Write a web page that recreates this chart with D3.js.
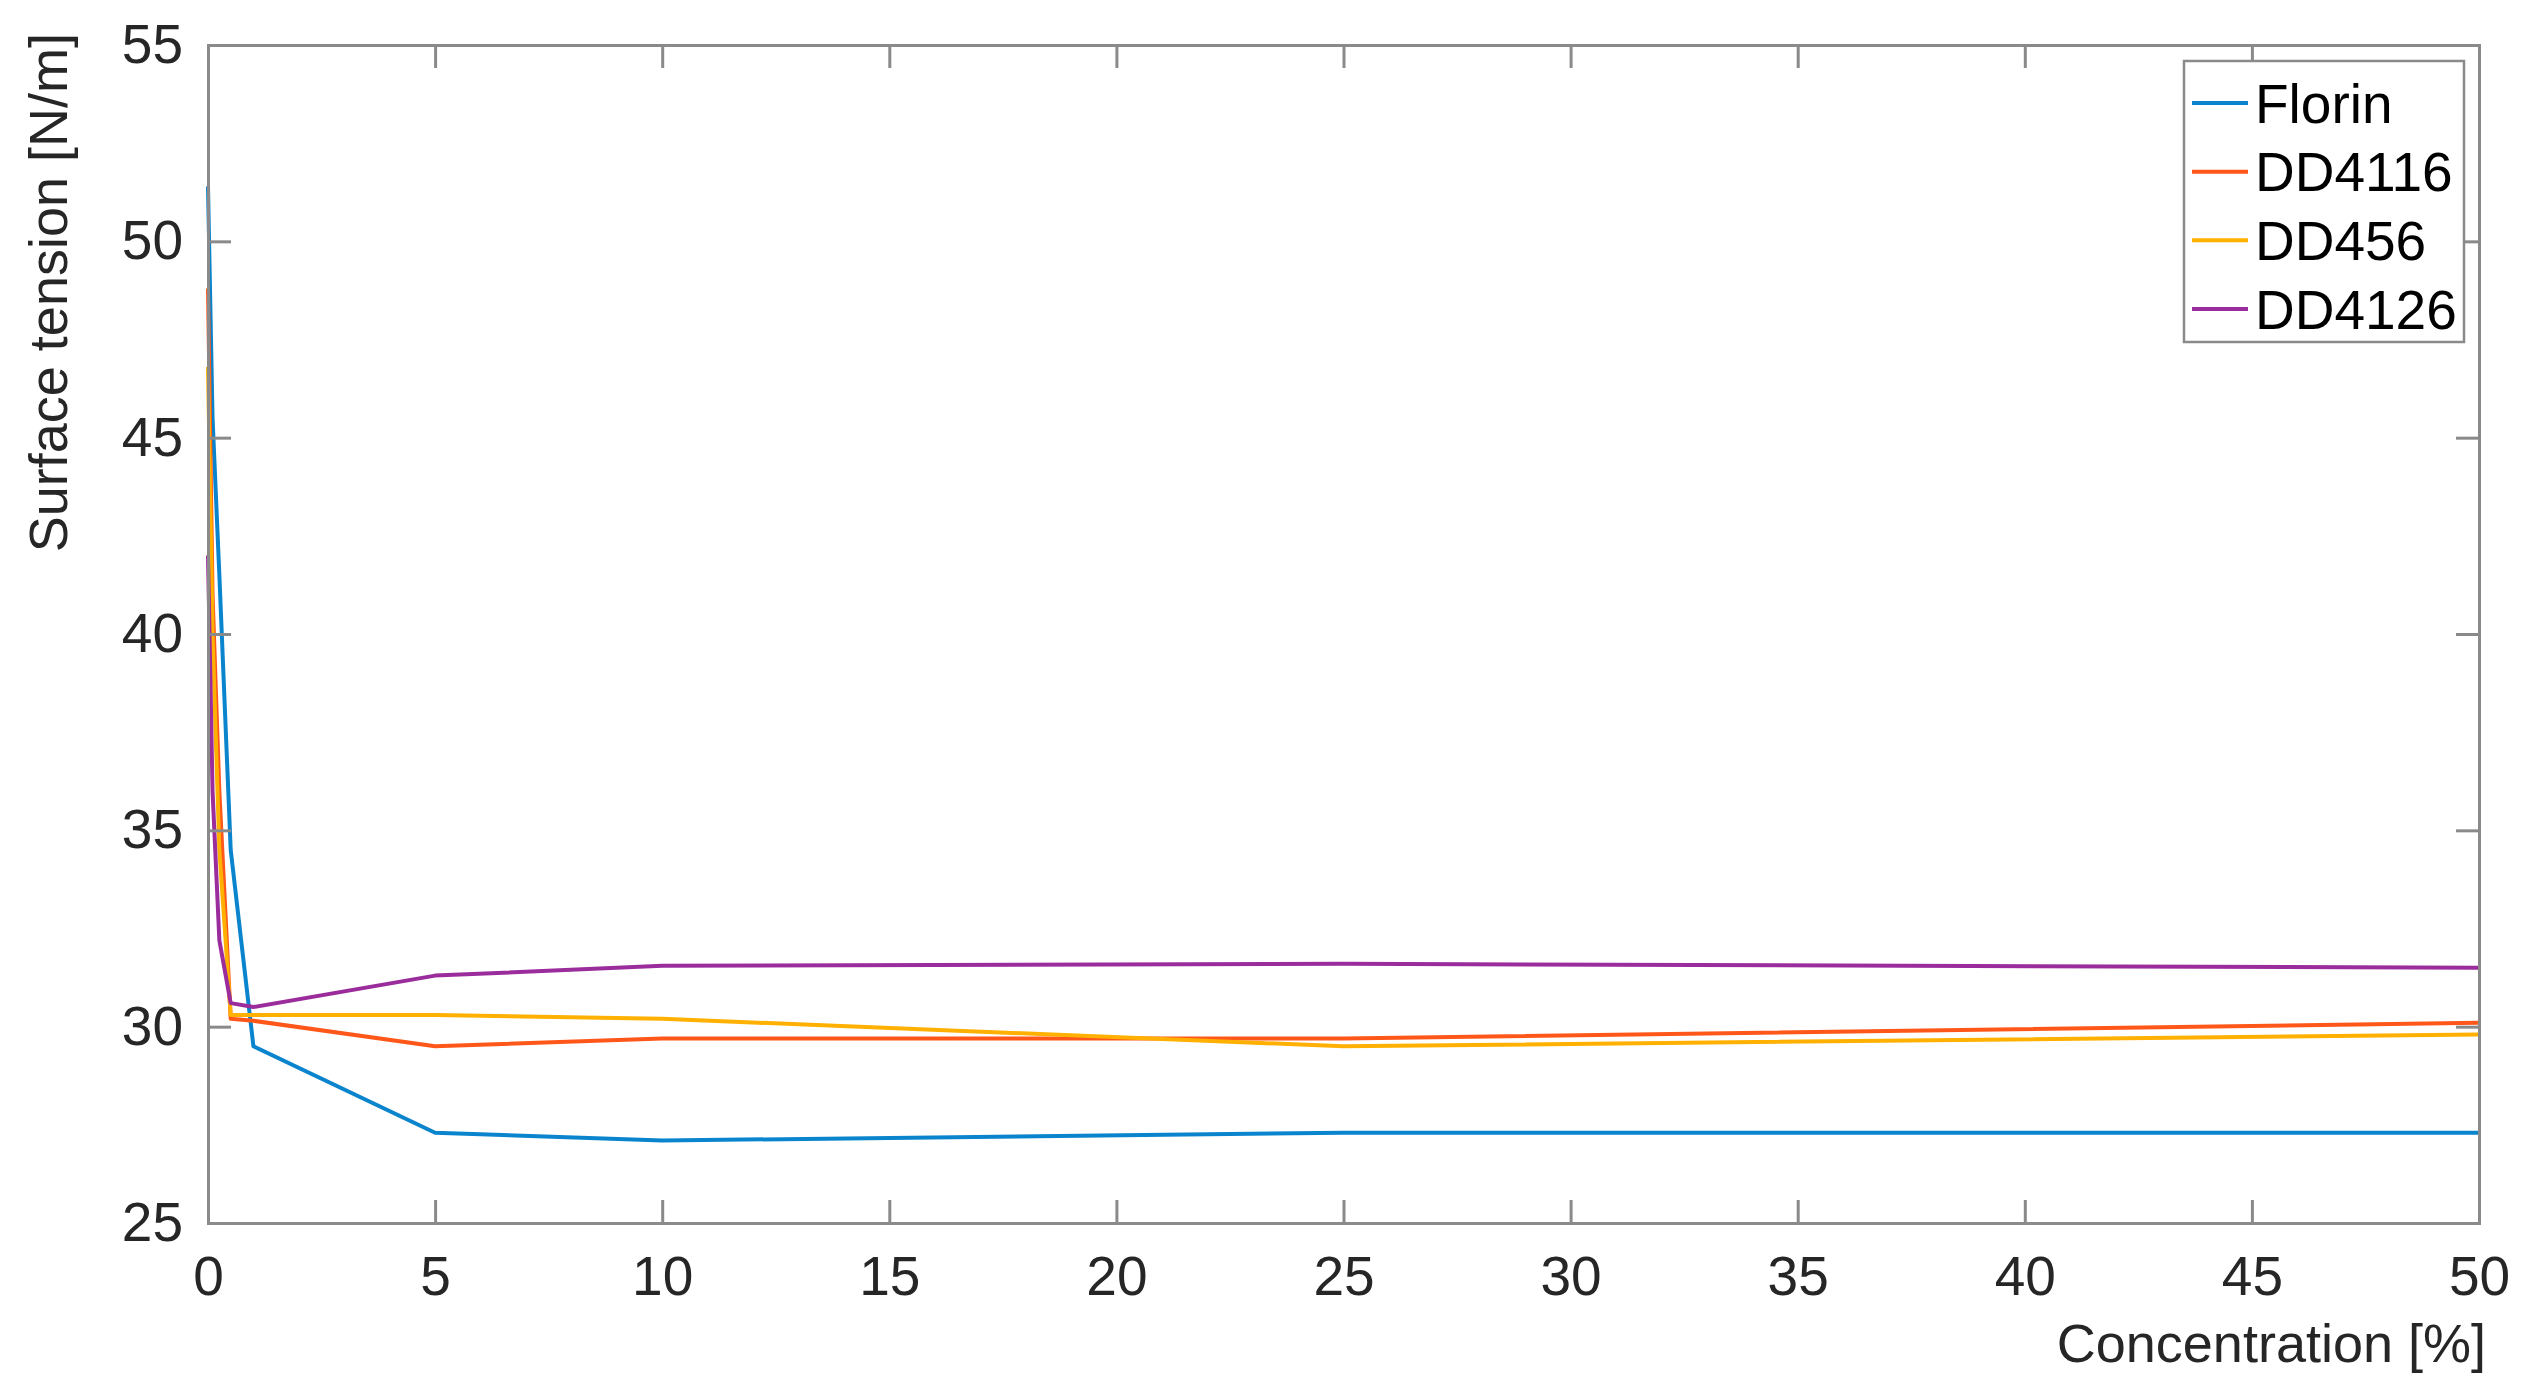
<!DOCTYPE html>
<html>
<head>
<meta charset="utf-8">
<script src="https://cdn.jsdelivr.net/npm/d3@7"></script>
<style>
  html, body { margin: 0; padding: 0; background: #fff; }
  svg { display: block; font-family: "Liberation Sans", Arial, sans-serif; }
</style>
</head>
<body>
<svg id="chart" width="2527" height="1392"></svg>
<script>
// ---- data ----
const concentration = [0, 0.1, 0.25, 0.5, 1, 5, 10, 25, 50];
const seriesNames = ["Florin", "DD4116", "DD456", "DD4126"];
const florin = [51.4, 45.5, 41.5, 34.5, 29.5, 27.3, 27.1, 27.3, 27.3];
const dd4116 = [48.8, 41.0, 36.0, 30.2, 30.15, 29.5, 29.7, 29.7, 30.1];
const dd456  = [46.8, 40.0, 34.5, 30.3, 30.3, 30.3, 30.2, 29.5, 29.8];
const dd4126 = [42.0, 36.0, 32.2, 30.6, 30.5, 31.3, 31.55, 31.6, 31.5];
const xTicks = [0, 5, 10, 15, 20, 25, 30, 35, 40, 45, 50];
const yTicks = [25, 30, 35, 40, 45, 50, 55];
const colors = ["#0a84cc", "#ff5719", "#ffb000", "#9a2c9c"];

const seriesValues = [florin, dd4116, dd456, dd4126];

(function () {
  // ---- layout ----
  const svg = d3.select("#chart");
  const mLeft = 208, mRight = 2479, mTop = 45, mBottom = 1223;
  const x = d3.scaleLinear().domain([0, 50]).range([mLeft, mRight]);
  const y = d3.scaleLinear().domain([25, 55]).range([mBottom, mTop]);
  const axisColor = "#8a8a8a";
  const textColor = "#262626";
  const tickLen = 23;
  const fontSize = 55;

  // plot lines
  const line = d3.line().x(d => x(d[0])).y(d => y(d[1]));
  seriesValues.forEach((vals, i) => {
    const pts = concentration.map((c, j) => [c, vals[j]]);
    svg.append("path")
      .datum(pts)
      .attr("d", line)
      .attr("fill", "none")
      .attr("stroke", colors[i])
      .attr("stroke-width", 4)
      .attr("stroke-linejoin", "round");
  });

  // axes (box style with inward ticks)
  const gx = svg.append("g").attr("transform", `translate(0,${mBottom})`)
    .call(d3.axisBottom(x).tickValues(xTicks).tickSize(-tickLen).tickPadding(33).tickFormat(d3.format("d")));
  const gxTop = svg.append("g").attr("transform", `translate(0,${mTop})`)
    .call(d3.axisTop(x).tickValues(xTicks).tickSize(-tickLen).tickFormat(""));
  const gy = svg.append("g").attr("transform", `translate(${mLeft},0)`)
    .call(d3.axisLeft(y).tickValues(yTicks).tickSize(-tickLen).tickPadding(25).tickFormat(d3.format("d")));
  const gyRight = svg.append("g").attr("transform", `translate(${mRight},0)`)
    .call(d3.axisRight(y).tickValues(yTicks).tickSize(-tickLen).tickFormat(""));

  [gx, gxTop, gy, gyRight].forEach(g => {
    g.select(".domain").attr("stroke", axisColor).attr("stroke-width", 3);
    g.selectAll(".tick line").attr("stroke", axisColor).attr("stroke-width", 3);
    g.selectAll(".tick text").attr("fill", textColor).attr("font-size", fontSize)
      .attr("font-family", '"Liberation Sans", Arial, sans-serif');
  });

  // axis labels
  svg.append("text")
    .attr("x", 2486).attr("y", 1362)
    .attr("text-anchor", "end")
    .attr("font-size", 54)
    .attr("fill", textColor)
    .text("Concentration [%]");

  svg.append("text")
    .attr("transform", "translate(67,33) rotate(-90)")
    .attr("text-anchor", "end")
    .attr("font-size", 54)
    .attr("fill", textColor)
    .text("Surface tension [N/m]");

  // legend
  const lg = svg.append("g");
  lg.append("rect")
    .attr("x", 2184).attr("y", 61).attr("width", 280).attr("height", 281)
    .attr("fill", "#fff").attr("stroke", axisColor).attr("stroke-width", 2.5);
  const rowY = d3.scalePoint().domain(seriesNames).range([103, 309]);
  seriesNames.forEach((name, i) => {
    const yy = rowY(name);
    lg.append("line")
      .attr("x1", 2192).attr("x2", 2248).attr("y1", yy).attr("y2", yy)
      .attr("stroke", colors[i]).attr("stroke-width", 4);
    lg.append("text")
      .attr("x", 2255).attr("y", yy)
      .attr("dy", "0.36em")
      .attr("font-size", 55)
      .attr("fill", "#000")
      .text(name);
  });
})();
</script>
</body>
</html>
